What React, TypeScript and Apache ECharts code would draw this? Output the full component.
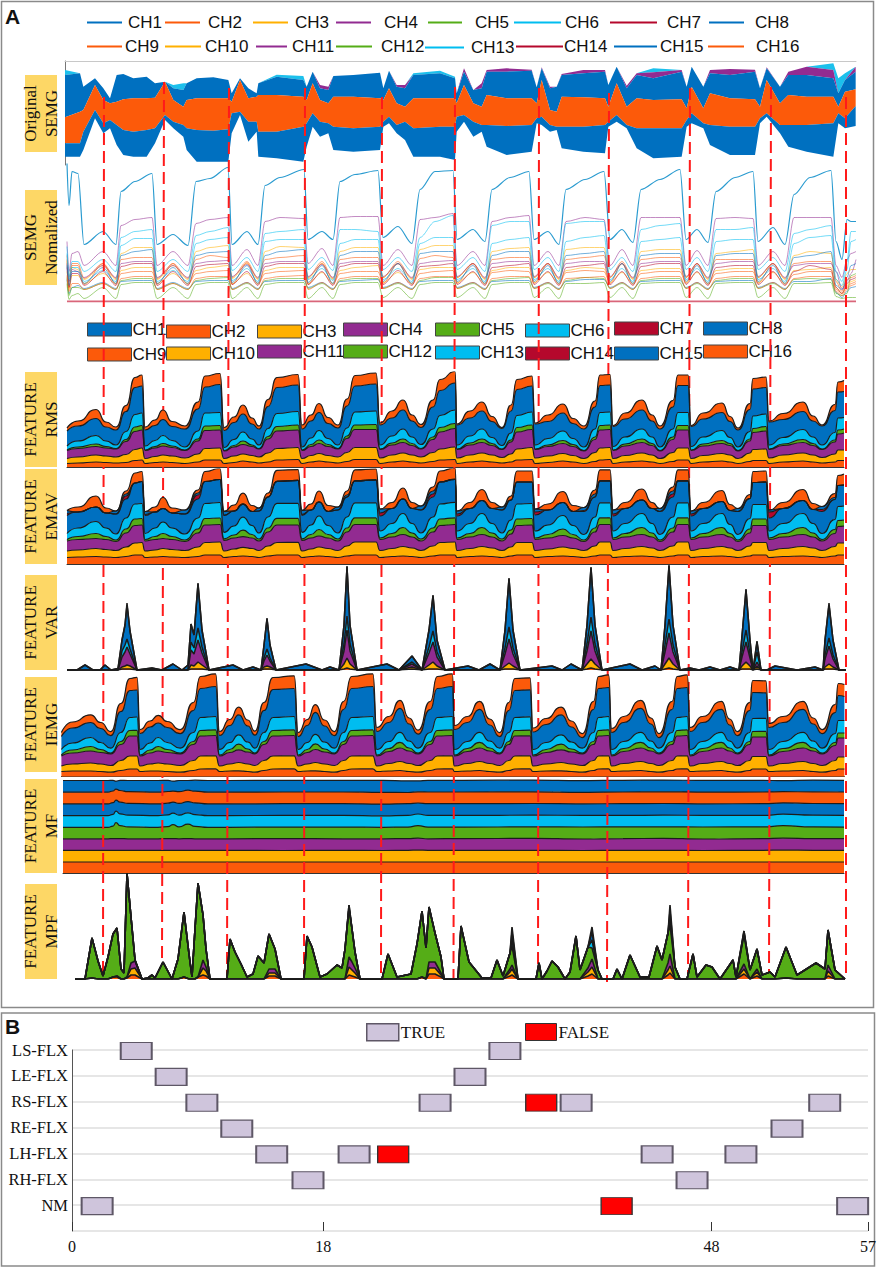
import React, { useEffect, useRef } from 'react';
import * as echarts from 'echarts';

const COLORS: Record<string, string> = {
  CH1: '#0070c0', CH2: '#fc5a0a', CH3: '#ffb000', CH4: '#922b91', CH5: '#55ad17', CH6: '#00bdf0', CH7: '#b5082c', CH8: '#0070c0',
  CH9: '#fc5a0a', CH10: '#ffb000', CH11: '#922b91', CH12: '#55ad17', CH13: '#00bdf0', CH14: '#b5082c', CH15: '#0070c0', CH16: '#fc5a0a',
};
const channels = ['CH1', 'CH2', 'CH3', 'CH4', 'CH5', 'CH6', 'CH7', 'CH8', 'CH9', 'CH10', 'CH11', 'CH12', 'CH13', 'CH14', 'CH15', 'CH16'];

// legend placement
const lineLegendX = [87, 165, 253, 336, 428, 514, 610, 709, 87, 165, 256, 336, 425, 516, 614, 708];
const lineLegendW = [35, 35, 35, 35, 34, 47, 47, 35, 35, 36, 31, 36, 39, 47, 43, 36];
const lineLegendTextX = [128, 208, 295, 384, 475, 565, 667, 755, 125, 205, 292, 381, 471, 564, 660, 756];
const lineLegendY = [23, 23, 23, 23, 23, 23, 23, 23, 47, 47, 47, 47, 48, 47, 47, 47];
const areaLegendX = [87, 166, 257, 343, 435, 525, 614, 703, 87, 166, 257, 343, 435, 525, 614, 703];
const areaLegendY = [330, 332, 332, 330, 330, 331, 329, 329, 355, 354, 352, 352, 353, 354, 354, 352];

const panelLabels = [
  { text: 'Original\nSEMG', top: 75, bottom: 152 },
  { text: 'SEMG\nNomalized', top: 190, bottom: 285 },
  { text: 'FEATURE\nRMS', top: 372, bottom: 467 },
  { text: 'FEATURE\nEMAV', top: 469, bottom: 564 },
  { text: 'FEATURE\nVAR', top: 575, bottom: 670 },
  { text: 'FEATURE\nIEMG', top: 677, bottom: 772 },
  { text: 'FEATURE\nMF', top: 779, bottom: 873 },
  { text: 'FEATURE\nMPF', top: 884, bottom: 979 },
];

// red boundaries between movements
const cutTopX = [104, 164, 229, 305, 382, 455, 539, 609, 690, 771, 846];
const cutBottomX = [103, 162, 227, 304, 381, 453.5, 538, 607, 688, 769, 846];
const cutTopY = [97, 82, 88, 88, 97, 87, 88, 93, 88, 87, 97];
const cutBottomY = [979, 963, 979, 979, 978, 979, 979, 982, 978, 978, 978];

// Original SEMG envelope, levels in the 3x crop, larger is lower on the page
const semgT = [195, 240, 250, 285, 310, 330, 350, 370, 400, 440, 465, 495, 520, 550, 560, 590, 640, 685, 695, 720, 745, 770, 775, 830, 910, 920, 938, 960, 985, 1000, 1060, 1140, 1150, 1167, 1190, 1215, 1240, 1320, 1365, 1370, 1392, 1420, 1445, 1460, 1520, 1595, 1610, 1625, 1650, 1670, 1685, 1750, 1815, 1825, 1850, 1880, 1910, 1960, 2045, 2060, 2075, 2110, 2130, 2190, 2265, 2280, 2300, 2340, 2365, 2420, 2500, 2515, 2535, 2567];
const semgBlueTop = [225, 220, 260, 235, 265, 295, 225, 222, 235, 230, 250, 245, 265, 270, 250, 235, 232, 240, 280, 235, 265, 280, 250, 230, 240, 260, 215, 265, 270, 228, 225, 218, 265, 212, 260, 265, 225, 220, 235, 280, 215, 270, 265, 215, 215, 212, 262, 205, 265, 260, 225, 220, 215, 255, 200, 265, 225, 235, 215, 260, 200, 260, 220, 225, 215, 265, 205, 260, 225, 225, 235, 280, 240, 215];
const semgOrangeTop = [352, 335, 330, 255, 300, 310, 305, 298, 295, 295, 293, 245, 300, 320, 300, 295, 295, 295, 305, 240, 295, 290, 285, 285, 290, 300, 250, 300, 310, 290, 290, 295, 300, 265, 310, 320, 295, 295, 295, 310, 255, 310, 320, 285, 295, 295, 310, 240, 330, 335, 290, 292, 295, 320, 250, 320, 295, 300, 298, 325, 260, 325, 280, 295, 298, 320, 240, 310, 285, 290, 290, 320, 275, 268];
const semgOrangeBottom = [430, 430, 395, 330, 370, 360, 375, 390, 395, 390, 385, 345, 365, 375, 385, 390, 392, 388, 340, 335, 365, 365, 395, 395, 380, 370, 340, 365, 370, 380, 385, 380, 365, 350, 375, 365, 385, 380, 380, 350, 345, 365, 375, 375, 378, 375, 355, 350, 375, 380, 380, 380, 375, 365, 345, 375, 385, 385, 385, 360, 340, 370, 375, 380, 380, 355, 340, 375, 375, 375, 370, 340, 355, 318];
const semgBlueBottom = [470, 470, 450, 355, 400, 385, 435, 465, 470, 470, 430, 360, 385, 410, 450, 485, 485, 485, 400, 345, 425, 395, 470, 475, 485, 440, 380, 410, 400, 450, 455, 450, 380, 370, 400, 420, 470, 470, 480, 395, 365, 410, 395, 440, 465, 455, 370, 375, 395, 390, 445, 455, 460, 380, 365, 385, 445, 475, 470, 380, 370, 385, 435, 465, 465, 370, 350, 400, 440, 455, 470, 370, 385, 378];
const semgPurpleExtra: Record<number, number> = { 960: 10, 985: 10, 1215: 10, 1190: 5, 1392: 10, 1445: 15, 1460: 5, 1520: 10, 1595: 3, 1625: 3, 1650: 5, 1685: 3, 1750: 10, 1815: 5, 1880: 8, 1910: 5, 1960: 18, 2045: 5, 2130: 10, 2190: 18, 2265: 6, 2300: 3, 2365: 10, 2420: 25, 2500: 25, 2567: 15 };
const semgCyanExtra: Record<number, number> = { 195: 15, 520: 10, 550: 20, 830: 6, 910: 12, 1240: 5, 1320: 8, 1365: 5, 1960: 12, 2500: 20, 2515: 45, 2535: 20 };

// Normalized SEMG
const normT = [1, 3, 6, 12, 18, 37, 50, 55, 69, 86, 91, 107, 122, 130, 144, 162, 166, 181, 192, 199, 214, 238, 242, 256, 267, 274, 289, 312, 317, 332, 346, 354, 369, 387, 391, 407, 419, 426, 444, 463, 468, 482, 493, 500, 519, 538, 544, 556, 567, 575, 594, 614, 620, 631, 642, 650, 669, 687, 692, 707, 719, 728, 744, 765, 770, 776, 781, 785, 790];
const normCh8 = [138, 96, 130, 128, 57, 70, 57, 110, 120, 128, 57, 67, 56, 120, 123, 134, 57, 70, 57, 116, 124, 132, 62, 70, 62, 120, 127, 131, 64, 75, 58, 112, 130, 131, 62, 72, 60, 112, 124, 130, 62, 70, 57, 112, 122, 130, 62, 72, 59, 112, 122, 132, 62, 72, 59, 110, 124, 130, 60, 74, 57, 107, 124, 131, 60, 42, 82, 80, 80];
const normCh4 = [60, 30, 48, 50, 36, 50, 36, 76, 82, 84, 36, 50, 36, 78, 82, 84, 36, 52, 36, 80, 84, 83, 38, 53, 36, 84, 85, 85, 36, 52, 36, 82, 84, 88, 36, 50, 36, 80, 84, 86, 36, 50, 36, 80, 84, 82, 36, 52, 36, 84, 84, 84, 36, 51, 36, 83, 84, 83, 36, 50, 36, 84, 84, 84, 36, 24, 42, 48, 50];
const normCh6 = [55, 25, 40, 40, 30, 42, 30, 64, 70, 72, 30, 42, 30, 66, 70, 74, 31, 44, 30, 68, 70, 72, 32, 44, 31, 72, 72, 70, 32, 44, 30, 64, 80, 86, 32, 44, 30, 76, 80, 80, 32, 44, 30, 78, 80, 80, 32, 44, 30, 72, 76, 78, 32, 44, 30, 72, 72, 74, 32, 44, 30, 68, 72, 76, 30, 20, 40, 70, 70];
const normCh13 = [48, 22, 34, 34, 20, 31, 20, 56, 63, 63, 20, 31, 20, 58, 62, 64, 21, 33, 20, 60, 62, 62, 22, 33, 21, 58, 62, 62, 22, 33, 20, 58, 64, 64, 22, 33, 20, 58, 62, 64, 22, 33, 20, 60, 64, 66, 22, 33, 20, 60, 62, 64, 22, 33, 20, 60, 62, 62, 22, 33, 20, 58, 64, 66, 22, 16, 32, 60, 62];
const normCh3 = [40, 20, 34, 32, 22, 36, 22, 48, 54, 54, 22, 36, 22, 50, 54, 56, 23, 38, 22, 50, 55, 54, 23, 38, 22, 50, 54, 54, 24, 38, 22, 52, 56, 56, 24, 38, 22, 50, 53, 54, 24, 38, 22, 52, 54, 54, 24, 38, 22, 50, 52, 52, 24, 38, 22, 48, 50, 52, 24, 38, 22, 46, 50, 48, 22, 14, 28, 32, 32];
const normCh15 = [36, 16, 30, 30, 18, 34, 18, 46, 50, 52, 18, 34, 18, 46, 49, 50, 19, 36, 18, 46, 50, 52, 19, 36, 18, 46, 50, 50, 20, 38, 18, 48, 50, 50, 20, 36, 18, 46, 50, 50, 20, 36, 18, 46, 48, 50, 20, 38, 18, 46, 48, 48, 20, 36, 18, 46, 48, 48, 20, 36, 18, 44, 46, 50, 16, 12, 24, 36, 38];
const normCh2 = [46, 24, 38, 38, 23, 38, 23, 42, 44, 44, 23, 38, 23, 42, 46, 44, 24, 40, 23, 42, 44, 46, 24, 40, 23, 42, 44, 44, 24, 40, 23, 43, 46, 44, 24, 38, 23, 42, 44, 44, 24, 38, 23, 42, 44, 46, 24, 40, 23, 42, 44, 44, 24, 38, 23, 42, 42, 42, 24, 38, 23, 38, 40, 40, 20, 10, 22, 24, 26];
const normCh11 = [38, 20, 32, 30, 24, 36, 24, 38, 40, 40, 24, 36, 24, 38, 40, 41, 25, 37, 24, 38, 40, 40, 25, 37, 24, 38, 40, 40, 25, 38, 24, 38, 40, 41, 25, 38, 24, 38, 40, 40, 25, 38, 24, 38, 40, 40, 25, 38, 24, 38, 40, 40, 25, 38, 24, 38, 40, 40, 25, 38, 24, 36, 38, 38, 30, 12, 20, 28, 42];
const normCh14 = [34, 14, 28, 28, 16, 30, 16, 35, 38, 38, 16, 30, 16, 35, 37, 38, 17, 30, 16, 35, 38, 38, 17, 30, 16, 35, 38, 38, 17, 31, 16, 35, 36, 38, 17, 30, 16, 34, 36, 38, 17, 30, 16, 34, 36, 38, 17, 30, 16, 35, 38, 38, 17, 30, 16, 34, 36, 36, 17, 30, 16, 30, 36, 32, 14, 8, 18, 22, 24];
const normCh10 = [30, 12, 26, 26, 18, 28, 18, 31, 34, 34, 18, 28, 18, 31, 34, 36, 18, 28, 18, 31, 34, 34, 18, 29, 18, 31, 34, 36, 19, 29, 18, 32, 34, 34, 19, 29, 18, 31, 34, 34, 19, 29, 18, 31, 34, 33, 19, 29, 18, 31, 33, 33, 19, 29, 18, 31, 33, 33, 19, 29, 18, 31, 32, 34, 14, 8, 16, 20, 22];
const normCh9 = [42, 14, 36, 36, 17, 38, 17, 28, 30, 30, 17, 38, 17, 28, 30, 31, 17, 39, 17, 28, 30, 31, 17, 38, 17, 28, 30, 30, 18, 38, 17, 28, 30, 31, 18, 38, 17, 29, 31, 30, 18, 38, 17, 29, 31, 30, 18, 38, 17, 28, 30, 30, 18, 38, 17, 28, 30, 30, 18, 38, 17, 27, 30, 30, 12, 8, 14, 18, 20];
const normCh16 = [26, 10, 18, 18, 12, 18, 12, 23, 25, 25, 12, 18, 12, 23, 25, 25, 12, 19, 12, 23, 25, 26, 12, 19, 12, 23, 25, 25, 13, 19, 12, 23, 25, 25, 13, 19, 12, 23, 25, 25, 13, 19, 12, 23, 24, 25, 13, 19, 12, 23, 25, 25, 13, 19, 12, 23, 25, 25, 13, 19, 12, 23, 25, 25, 10, 6, 12, 16, 18];
const normCh1 = [22, 8, 14, 16, 13, 19, 13, 20, 21, 21, 13, 19, 13, 20, 21, 21, 13, 19, 13, 20, 21, 21, 14, 19, 13, 20, 21, 22, 14, 19, 13, 20, 21, 21, 14, 19, 13, 20, 21, 21, 14, 19, 13, 20, 22, 22, 14, 19, 13, 20, 21, 21, 14, 19, 13, 20, 21, 21, 14, 19, 13, 20, 20, 23, 9, 4, 10, 14, 15];
const normCh5 = [24, 6, 14, 14, 12, 18, 12, 21, 23, 23, 12, 18, 12, 21, 23, 24, 12, 18, 12, 21, 23, 23, 13, 18, 12, 21, 23, 23, 13, 18, 12, 21, 24, 24, 13, 18, 12, 21, 23, 24, 13, 18, 12, 21, 24, 23, 13, 18, 12, 21, 23, 23, 13, 18, 12, 21, 23, 23, 13, 18, 12, 22, 23, 22, 8, 6, 8, 26, 28];
const normCh12 = [18, 2, 6, 8, 3, 14, 3, 17, 19, 19, 3, 14, 3, 17, 19, 19, 3, 14, 3, 17, 19, 19, 3, 14, 3, 17, 19, 19, 4, 14, 3, 17, 19, 19, 4, 14, 3, 17, 19, 19, 4, 14, 3, 18, 18, 19, 4, 14, 3, 18, 19, 19, 4, 14, 3, 18, 19, 19, 4, 14, 3, 18, 18, 19, 5, 3, 4, 4, 4];

// Stacked feature panels share one time base, eight points per movement
const featureT = [0, 11, 29, 39, 49, 59, 68, 75, 78, 88, 96, 105, 118, 131, 138, 153, 157, 167, 176, 185, 192, 201, 210, 231, 235, 244, 252, 261, 271, 280, 288, 309, 313, 325, 336, 345, 354, 366, 373, 388, 390, 403, 415, 425, 435, 444, 450, 465, 468, 481, 496, 506, 517, 528, 533, 543, 546, 558, 575, 585, 593, 606, 611, 621, 624, 636, 655, 663, 671, 683, 686, 699, 702, 716, 736, 746, 755, 768, 771, 777];

const rmsCh9 = [3.5, 4, 5, 4.5, 4, 4.5, 6.5, 7, 3.5, 4.5, 5, 4.5, 3.5, 5, 7, 7, 3.5, 4.5, 6, 5, 4, 5, 7, 7.5, 3.5, 5, 6, 5, 4, 5.5, 7.5, 7.5, 3.5, 5, 6, 5, 4, 5.5, 7, 7.5, 3.5, 5, 6, 5, 4, 5, 7, 7.5, 3.5, 4.5, 6, 5, 3.5, 5.5, 7, 7.5, 3.5, 5, 6, 5, 3.5, 5.5, 7, 7, 3.5, 5, 6, 5, 3.5, 5.5, 6.5, 6.5, 3.5, 5, 6, 5, 4, 5, 6.5, 6.5];
const rmsCh10 = [5, 6, 7, 6.5, 6, 8, 11, 12, 5, 6, 7, 6.5, 5.5, 8, 11.5, 12, 5, 6.5, 7, 6.5, 6, 9, 11.5, 12, 5, 6.5, 7.5, 6.5, 6, 9, 12, 12, 5.5, 7, 8, 7, 6, 9, 11, 12.5, 5.5, 7, 8, 7, 5.5, 8, 11, 12, 5.5, 6.5, 7.5, 6.5, 5, 9, 12, 12, 5, 6.5, 8, 7, 5, 9, 12, 12, 5, 6.5, 7.5, 7, 5, 8.5, 11, 11.5, 5.5, 7, 8, 7, 5.5, 8, 10.5, 10.5];
const rmsCh11 = [8, 8.5, 8.5, 8, 8, 13, 18, 18, 8, 8.5, 9, 8.5, 7.5, 13, 18, 18, 7.5, 9, 9.5, 9, 8, 14, 17.5, 17.5, 8, 9, 10, 9, 8, 14, 18, 18, 8.5, 10, 10.5, 9.5, 8, 13, 17, 18.5, 8.5, 10, 10.5, 9.5, 8, 12, 17, 18, 8.5, 9.5, 10, 9, 7.5, 13, 18, 18, 8, 9.5, 10.5, 9.5, 7.5, 13, 18, 18, 8, 9.5, 10, 9.5, 7.5, 12, 17, 18, 8.5, 9.5, 10.5, 9.5, 8, 12, 16, 17];
const rmsCh12 = [0.5, 1.5, 2.5, 1.5, 0.5, 2, 4.5, 4.5, 0.5, 1.5, 2.5, 1.5, 0.5, 2, 4.5, 4.5, 0.5, 1.5, 3.5, 1.5, 0.5, 2.5, 4.5, 5, 0.5, 2, 3.5, 2, 0.5, 2.5, 4.5, 5, 0.5, 2, 3.5, 2, 0.5, 2.5, 4.5, 5, 0.5, 2, 3.5, 2, 0.5, 2, 4.5, 4.5, 0.5, 1.5, 3, 2, 0.5, 2.5, 4.5, 4.5, 0.5, 2, 3.5, 2, 0.5, 2.5, 4.5, 4.5, 0.5, 2, 3, 2, 0.5, 2, 4, 4.5, 0.5, 1.5, 3, 2, 0.5, 2, 4, 4];
const rmsCh13 = [4, 6, 8.5, 5.5, 3.5, 8, 12.5, 12.5, 4, 6, 8, 5.5, 3, 8, 13, 13, 3, 6, 9, 6, 3.5, 8, 13, 13.5, 3, 6.5, 9.5, 6, 3.5, 8, 13, 13.5, 4, 7, 10, 6.5, 4, 8, 12, 13.5, 4, 7, 10, 6, 3.5, 7, 12, 13, 4, 6.5, 9.5, 6, 3.5, 8, 13, 13, 3.5, 7, 10, 6.5, 3.5, 8, 13, 13, 3.5, 7, 10, 6, 3.5, 7.5, 12.5, 12.5, 4, 6.5, 10, 6.5, 4, 7.5, 12, 11.5];
const rmsCh15 = [15, 15, 17, 14, 15, 20, 27, 27, 16, 15, 16, 14, 18, 22, 26, 28, 17, 17, 18, 15, 16, 22, 26, 26.5, 18, 17, 18, 15, 17, 22, 26, 27, 20, 18, 19, 16, 17, 22, 25, 27, 20, 18, 18, 16, 17, 22, 26, 26, 21, 17, 18, 15, 18, 22, 27, 27, 20, 18, 19, 16, 18, 22, 27, 27, 20, 18, 18, 16, 17, 22, 27, 26.5, 23, 18, 18, 16, 19, 22, 26, 26];
const rmsCh16 = [3, 5, 9, 5, 3, 6, 10, 11, 3, 5.5, 9.5, 5, 3, 7, 11, 11, 3, 5.5, 9, 6, 3, 7, 10, 10.5, 4, 6, 9, 6, 3, 7, 10.5, 11, 2, 7, 10, 6, 3, 7, 11, 11.5, 1, 7, 9, 5, 1, 6, 10, 10, 1, 6.5, 9, 5, 3, 6, 10.5, 10.5, 1, 6, 10, 6, 3, 6.5, 10.5, 10.5, 1, 6, 9.5, 5, 2, 6, 10.5, 10.5, 1, 6, 9.5, 5, 1, 6, 10, 11];

const emavCh9 = [6.5, 7, 7.5, 7, 6.5, 7.5, 9, 9, 6.5, 7, 7.5, 7, 6.5, 7.5, 9, 9, 6.5, 7.5, 8, 7.5, 6.5, 8, 9, 9, 6.5, 7.5, 8, 7.5, 6.5, 8, 9, 9, 6.5, 7.5, 8, 7.5, 6.5, 8, 9, 9, 6.5, 7.5, 8, 7.5, 6.5, 8, 9, 9, 6.5, 7.5, 8, 7.5, 6.5, 8, 9, 9, 6.5, 7.5, 8, 7.5, 6.5, 8, 9, 9, 6.5, 7.5, 8, 7.5, 6.5, 8, 9, 9, 6.5, 7.5, 8, 7.5, 6.5, 8, 9, 9];
const emavCh10 = [6.5, 7, 8, 7.5, 7, 9.5, 12, 12.5, 6.5, 7, 8, 7.5, 7, 9.5, 12.5, 13, 6.5, 7.5, 8.7, 8, 7, 10, 12.5, 12.7, 6.5, 7.5, 9, 8, 7, 10, 13, 13, 7, 8, 9.5, 8.5, 7, 10, 12.5, 13, 7, 8, 9.5, 8.5, 7, 9, 12.5, 12.5, 7, 7.5, 9, 8, 7, 10, 13, 13, 7, 8, 9.5, 8.5, 7, 10, 13, 13, 7, 8, 9.5, 8.5, 7, 10, 12.5, 12.5, 7, 8, 9.5, 8.5, 7, 9.5, 12, 12];
const emavCh11 = [10, 10.5, 10, 10, 9, 14, 17.5, 17.5, 10, 10.5, 10, 10, 9, 14, 17.5, 17.5, 10.7, 11, 10.7, 10.5, 9.5, 14, 17.5, 17.3, 10.7, 11, 11, 10.5, 9.5, 14, 17.5, 17.5, 11, 11.5, 12, 11, 9.5, 14, 17, 17.5, 11, 11.5, 12, 11, 9.5, 13, 17, 17.5, 11, 11, 11.5, 10.5, 9, 14, 17.5, 17.5, 11, 11.5, 12, 11, 9, 14, 17.5, 17.5, 11, 11.5, 12, 11, 9, 13, 17, 17, 11, 11.5, 12, 11, 9.5, 13, 16.5, 17];
const emavCh12 = [1.5, 3, 5, 3, 1.5, 4, 6.5, 6.5, 1.5, 3, 5, 3, 1.5, 4, 6.5, 6.5, 1.5, 3, 6.5, 3.5, 2, 4, 6.7, 6.7, 1.5, 3.5, 6.5, 3.5, 2, 4, 6.7, 6.7, 1.5, 3.5, 7, 4, 2, 4, 6.5, 6.7, 1.5, 3.5, 7, 4, 2, 4, 6.5, 6.5, 1.5, 3.5, 6.5, 3.5, 1.5, 4, 6.7, 6.7, 1.5, 3.5, 7, 4, 1.5, 4, 6.7, 6.7, 1.5, 3.5, 7, 3.5, 1.5, 4, 6.5, 6.5, 1.5, 3.5, 7, 4, 1.5, 4, 6, 6];
const emavCh13 = [6, 8.5, 12, 8.5, 6, 11, 15, 15, 6, 8.5, 11.5, 8.5, 6, 11, 15, 15.5, 6.5, 9, 13, 9, 6, 11, 15, 15, 6.5, 9.5, 13.5, 9, 6, 11, 15, 15, 7, 10, 14, 9.5, 6, 11, 15, 15.5, 7, 10, 14, 9.5, 6, 10, 15, 15, 7, 9.5, 13.5, 9, 5.5, 11, 15, 15, 7, 10, 14, 9.5, 5.5, 11, 15, 15, 7, 10, 14, 9, 5.5, 10.5, 14.5, 14.5, 7, 10, 14, 9.5, 6, 10, 14, 14];
const emavCh8 = [18, 16, 14.5, 15, 20, 19, 21, 22, 18, 16, 13.5, 15, 20, 19, 22, 23, 17, 15, 13, 14, 22, 20, 22, 23, 17, 15, 14, 14, 23, 20, 22, 23, 15, 15, 14.5, 15, 23, 20, 22, 23, 15, 15, 13, 15, 23, 20, 22, 21.5, 16, 15, 13, 14, 23, 20, 22, 22, 15, 15, 13.5, 15, 23, 20, 22, 22, 15, 15, 12, 14, 23, 20, 22, 22.5, 13, 15, 13, 14, 22, 20, 21, 21];
const emavCh14: Record<number, number> = { 0: 2, 59: 3, 78: 1, 131: 4, 235: 1, 313: 3, 366: 3, 390: 2, 468: 3, 517: 1, 546: 2, 606: 3, 624: 2, 702: 6, 755: 2 };
const emavCh15: Record<number, number> = { 0: 3, 49: 3, 59: 2, 78: 3, 118: 4, 131: 2, 157: 4, 192: 3, 235: 4, 271: 3, 280: 2, 313: 4, 354: 4, 366: 3, 390: 3, 435: 3, 468: 3, 517: 3, 528: 3, 546: 4, 593: 3, 606: 3, 624: 3, 671: 3, 702: 2, 755: 3, 768: 2 };
const emavCh16 = [0, 5, 11, 5, 0, 3, 10, 10, 0, 5, 11, 5, 0, 3, 10, 11, 0, 6, 11, 6, 0, 4, 11, 10.7, 0, 6, 11, 6, 0, 4, 11, 11, 0, 6, 11, 6, 0, 4, 11, 11.5, 0, 6, 11, 6, 0, 4, 11, 11, 0, 6, 11, 6, 0, 4, 11, 11, 0, 6, 11, 6, 0, 4, 11, 11, 0, 6, 11, 6, 0, 4, 11, 11, 0, 6, 11, 6, 0, 4, 10, 11];

const iemgCh9 = [5, 5.5, 5.5, 5, 4.3, 6, 7.5, 7.5, 5, 5.5, 5.5, 5, 4.3, 6, 7.5, 7.7, 5, 5.5, 5.7, 5, 4.3, 6, 7.5, 7.7, 5, 5.5, 5.7, 5, 4.3, 6, 7.5, 7.7, 5, 5.5, 6, 5, 4.3, 6, 7.5, 7.7, 5, 5.5, 6, 5, 4.3, 6, 7.5, 7.7, 5, 5.5, 5.7, 5, 4.3, 6, 7.5, 7.7, 5, 5.5, 6, 5, 4.3, 6, 7.5, 7.7, 5, 5.5, 6, 5, 4.3, 6, 7.5, 7.5, 5, 5.5, 6, 5, 4.3, 6, 7.5, 7.5];
const iemgCh10 = [5.5, 7, 8, 7.5, 6.7, 10, 13, 13, 5.5, 7, 8, 7.5, 6.7, 10, 13, 13, 5.5, 7, 8.3, 7.5, 6.7, 10, 13, 13, 5.5, 7, 8.3, 7.5, 6.7, 10, 13, 13, 5.5, 7.5, 9, 8, 6.7, 10, 13, 13, 5.5, 7.5, 9, 8, 6.7, 10, 13, 13, 5.5, 7, 8.3, 7.5, 6.7, 10, 13, 13, 5.5, 7.5, 9, 8, 6.7, 10, 13, 13, 5.5, 7.5, 9, 8, 6.7, 10, 12.5, 12.5, 5.5, 7.5, 9, 8, 6.7, 10, 12, 12];
const iemgCh11 = [10, 11, 12, 11.5, 11.7, 16, 20, 20, 10, 11, 12, 11.5, 11.7, 16, 20, 20.3, 10, 11.5, 12.7, 12, 11.7, 16, 20, 20.3, 10, 11.5, 13, 12, 11.7, 16, 20, 20.3, 10, 12, 13.5, 12.5, 11.7, 16, 20, 20.3, 10, 12, 13.5, 12.5, 11.7, 16, 20, 20, 10, 11.5, 12.7, 12, 11.7, 16, 20, 20.3, 10, 12, 13.5, 12.5, 11.7, 16, 20, 20.3, 10, 12, 13.5, 12.5, 11.7, 16, 19.5, 19.5, 10, 12, 13.5, 12.5, 11.7, 15, 19, 19];
const iemgCh12 = [1, 3, 4.5, 3, 0.7, 3, 5.5, 5.7, 1, 3, 4.5, 3, 0.7, 3, 5.5, 5.7, 1, 3, 5.7, 3, 0.7, 3, 5.5, 5.7, 1, 3, 5.7, 3, 0.7, 3, 5.5, 5.7, 1, 3, 5.7, 3, 0.7, 3, 5.5, 5.7, 1, 3, 5.7, 3, 0.7, 3, 5.5, 5.7, 1, 3, 5.7, 3, 0.7, 3, 5.5, 5.7, 1, 3, 5.7, 3, 0.7, 3, 5.5, 5.7, 1, 3, 5.7, 3, 0.7, 3, 5.5, 5.7, 1, 3, 5.7, 3, 0.7, 3, 5, 5];
const iemgCh13 = [5.5, 7, 9, 7, 5, 9, 13, 13.3, 5.5, 7, 9, 7, 5, 9, 13, 13.3, 5.5, 7, 9.3, 7, 5, 9, 13, 13.3, 5.5, 7, 9.5, 7, 5, 9, 13, 13.3, 5.5, 7, 10, 7, 5, 9, 13, 13.3, 5.5, 7, 10, 7, 5, 9, 13, 13.3, 5.5, 7, 9.3, 7, 5, 9, 13, 13.3, 5.5, 7, 10, 7, 5, 9, 13, 13.3, 5.5, 7, 10, 7, 5, 9, 13, 13, 5.5, 7, 10, 7, 5, 9, 12.5, 12.5];
const iemgCh15 = [13, 15, 15, 14, 12.5, 21, 27, 27, 16, 16, 14.5, 15, 14.5, 22, 29, 30, 14, 17, 20, 16, 13, 22, 28, 28, 13, 17, 22, 16, 12.5, 23, 29, 30, 18, 19, 24, 17, 14, 23, 29, 30, 20, 19, 23, 16, 11.5, 22, 27, 27, 17.5, 18, 20, 15, 10.5, 23, 29, 29, 17, 19, 24, 17, 10.5, 23, 29, 29, 18, 19, 23, 16, 12.5, 22, 26, 25.5, 22, 19, 23, 17, 14.5, 21, 25, 24];
const iemgCh16 = [4, 6, 7.7, 6, 4, 8, 12, 12.7, 4, 6, 7.7, 6, 4, 8, 12, 12.7, 4, 6, 7.7, 6, 4, 8, 12, 12.7, 4, 6, 7.7, 6, 4, 8, 12, 12.7, 4, 6, 8, 6, 4, 8, 12, 12.7, 4, 6, 8, 6, 4, 8, 12, 12, 4, 6, 7.7, 6, 4, 8, 12, 12.7, 4, 6, 8, 6, 4, 8, 12, 12.7, 4, 6, 8, 6, 4, 8, 12, 12, 4, 6, 8, 6, 4, 8, 12, 12];

const mfT = [0, 45, 50, 53, 57, 65, 95, 105, 110, 116, 125, 132, 145, 165, 220, 280, 320, 345, 355, 365, 400, 470, 520, 560, 600, 640, 700, 720, 750, 781];
const mfCh9 = [11, 11, 11, 11, 11, 11, 11, 11, 11, 11, 11, 11, 11, 11, 11, 11, 11, 11, 11, 11, 11, 11, 11, 11, 11, 11, 11, 11, 11, 11];
const mfCh10 = [11.7, 11.7, 11.7, 11.7, 11.7, 11.7, 11.7, 11.7, 11.7, 11.7, 11.7, 11.7, 11.7, 11.7, 11.5, 11.7, 11.5, 11.7, 11.9, 11.7, 11.7, 11.7, 11.5, 11.7, 11.7, 11.5, 11.7, 11.9, 11.7, 11.7];
const mfCh11 = [11.5, 11.5, 11.7, 11.7, 11.7, 11.5, 11.5, 11.7, 11.7, 11.5, 11.7, 11.5, 11.5, 11.5, 11.9, 11.5, 11.7, 11.7, 11.9, 11.5, 11.7, 11.9, 11.5, 11.7, 11.9, 11.5, 11.7, 11.9, 11.7, 11.7];
const mfCh12 = [11.5, 11.5, 12.5, 16, 13, 12, 11.5, 12, 14, 12, 14.5, 12.5, 11.5, 11.5, 11.5, 11.7, 11.5, 11.5, 12.5, 11.7, 11.5, 11.5, 12, 11.7, 11.5, 12, 11.7, 12.5, 11.7, 11.5];
const mfCh13 = [11.7, 11.7, 11.7, 11.5, 11.7, 11.7, 11.7, 11.7, 11.5, 11.7, 11.3, 11.7, 11.7, 11.7, 11.7, 11.7, 11.5, 11.7, 11.7, 11.7, 11.7, 11.7, 11.7, 11.5, 11.7, 11.7, 11.5, 11.5, 11.7, 11.7];
const mfCh15 = [11.7, 11.7, 11.7, 11, 11.7, 11.7, 11.7, 11.7, 11, 11.7, 11.2, 11.7, 11.7, 11.7, 11.7, 11.7, 11.7, 11.7, 11, 11.7, 11.7, 11.7, 11.5, 11.7, 11.7, 11.5, 11.7, 11.3, 11.7, 11.7];
const mfCh16 = [11.7, 11.7, 11.7, 11, 11.7, 11.7, 11.7, 11.7, 11, 11.7, 11.4, 11.7, 11.7, 11.7, 11.7, 11.7, 11.7, 11.2, 11.2, 11.7, 11.7, 11.7, 11.5, 11.7, 11.7, 11.7, 11.7, 11.2, 11.7, 11.7];
const mfCh1 = [11.7, 11.7, 10.7, 8, 10.2, 11.2, 11.7, 11.2, 10, 11.2, 9.7, 11, 11.7, 11.7, 11.7, 11.7, 12, 11.7, 11, 11.7, 11.7, 11.7, 11.7, 11.7, 11.7, 11.7, 11.7, 11, 11.7, 11.7];

const varT = [0, 10, 18, 26, 33, 38, 44, 51, 55, 58, 60, 63, 70, 85, 95, 106, 115, 121, 124, 127, 131, 135, 142, 166, 176, 186, 194, 197, 200, 203, 209, 239, 255, 263, 272, 277, 280, 283, 290, 320, 332, 345, 355, 362, 366, 370, 378, 401, 412, 423, 433, 438, 442, 446, 453, 485, 495, 504, 515, 520, 524, 528, 535, 563, 575, 588, 594, 598, 602, 606, 613, 623, 632, 643, 653, 663, 672, 675, 679, 683, 686, 690, 694, 700, 708, 730, 748, 756, 758, 762, 766, 772, 779];
const varCh9: Record<number, number> = { 55: 1, 58: 1, 60: 1, 63: 1, 124: 1, 127: 1, 131: 1, 135: 1, 197: 1, 200: 1, 203: 1, 277: 1, 280: 2, 283: 1, 345: 1, 362: 1, 366: 1, 370: 1, 438: 1, 442: 1, 446: 1, 520: 1, 524: 2, 528: 1, 598: 1, 602: 2, 606: 1, 675: 1, 679: 1, 683: 1, 690: 1, 758: 1, 762: 1, 766: 1 };
const varCh10: Record<number, number> = { 55: 2, 58: 3, 60: 4, 63: 3, 124: 4, 127: 3, 131: 7, 135: 4, 197: 2, 200: 3, 203: 2, 277: 5, 280: 10, 283: 5, 345: 2, 362: 4, 366: 7, 370: 3, 438: 3, 442: 6, 446: 3, 520: 5, 524: 9, 528: 5, 598: 5, 602: 10, 606: 5, 675: 3, 679: 7, 683: 3, 690: 3, 758: 2, 762: 5, 766: 2 };
const varCh11: Record<number, number> = { 55: 10, 58: 14, 60: 18, 63: 12, 124: 15, 127: 12, 131: 22, 135: 12, 197: 6, 200: 11, 203: 6, 277: 13, 280: 28, 283: 13, 345: 3, 362: 12, 366: 20, 370: 9, 438: 12, 442: 24, 446: 12, 520: 13, 524: 28, 528: 13, 598: 12, 602: 25, 606: 12, 675: 9, 679: 20, 683: 8, 690: 4, 758: 8, 762: 18, 766: 8 };
const varCh13: Record<number, number> = { 55: 6, 58: 7, 60: 8, 63: 5, 124: 8, 127: 6, 131: 12, 135: 6, 197: 3, 200: 6, 203: 3, 277: 7, 280: 14, 283: 7, 345: 2, 362: 6, 366: 11, 370: 5, 438: 6, 442: 12, 446: 6, 520: 7, 524: 14, 528: 7, 598: 7, 602: 14, 606: 7, 675: 5, 679: 12, 683: 4, 690: 10, 758: 4, 762: 8, 766: 4 };
const varCh15: Record<number, number> = { 18: 5, 38: 5, 51: 1.5, 55: 11, 58: 20, 60: 34, 63: 18, 85: 2, 106: 6, 121: 5, 124: 18, 127: 13, 131: 44, 135: 17, 166: 5, 186: 3, 197: 13, 200: 30, 203: 13, 239: 6, 263: 3, 277: 19, 280: 49, 283: 19, 320: 6, 345: 6, 362: 17, 366: 35, 370: 12, 401: 4, 423: 6, 438: 18, 442: 48, 446: 18, 485: 4, 504: 6, 520: 19, 524: 49, 528: 19, 563: 6, 588: 4, 598: 20, 602: 53, 606: 20, 623: 2, 643: 3, 663: 3, 675: 16, 679: 40, 683: 14, 690: 10, 708: 4, 748: 3, 758: 15, 762: 33, 766: 15 };
const varCh16: Record<number, number> = { 60: 2, 131: 1, 200: 1, 280: 1, 366: 1, 442: 1, 524: 1, 602: 1, 679: 1, 690: 1, 762: 2 };

const mpfT = [75, 85, 92, 98, 103, 108, 113, 117, 121, 124, 127, 131, 135, 142, 148, 152, 155, 163, 172, 178, 184, 189, 192, 195, 198, 203, 206, 210, 227, 230, 235, 241, 247, 253, 258, 264, 269, 275, 281, 304, 307, 312, 320, 327, 337, 342, 345, 349, 352, 355, 360, 382, 388, 397, 411, 417, 422, 426, 429, 435, 441, 444, 454, 458, 461, 469, 482, 491, 497, 503, 510, 512, 518, 536, 539, 542, 547, 552, 558, 565, 570, 576, 580, 588, 592, 598, 602, 613, 617, 622, 630, 640, 649, 657, 662, 668, 670, 675, 680, 687, 693, 697, 706, 712, 720, 733, 736, 744, 750, 757, 762, 770, 775, 786, 797, 816, 825, 828, 835, 845];
const mpfCh12 = [0, 0, 40, 18, 3, 22, 43, 48, 10, 6, 104, 46, 1, 0, 1, 4, 1, 17, 0, 20, 65, 25, 2, 50, 94, 45, 18, 0, 0, 40, 27, 15, 2, 5, 23, 16, 35, 20, 0, 0, 43, 32, 2, 5, 14, 11, 30, 49, 33, 16, 0, 0, 25, 2, 5, 35, 66, 31, 55, 29, 16, 0, 0, 0, 53, 17, 1, 1, 19, 3, 16, 19, 0, 0, 16, 0, 8, 18, 12, 0, 7, 43, 9, 21, 11, 9, 0, 0, 10, 0, 24, 2, 2, 33, 19, 30, 29, 12, 0, 0, 25, 2, 14, 12, 0, 19, 2, 29, 9, 20, 4, 7, 2, 31, 4, 16, 10, 35, 9, 0];
const mpfCh9: Record<number, number> = { 92: 1, 113: 2, 117: 2, 127: 1, 131: 4, 135: 4, 184: 2, 198: 2, 203: 4, 206: 3, 269: 3, 275: 3, 349: 4, 352: 3, 355: 2, 422: 2, 429: 5, 435: 5, 441: 2, 510: 3, 512: 4, 588: 3, 592: 5, 668: 4, 670: 6, 744: 5, 757: 3, 786: 1, 828: 3 };
const mpfCh10: Record<number, number> = { 117: 1, 127: 1, 131: 6, 135: 7, 203: 7, 206: 5, 269: 3, 275: 3, 349: 8, 352: 6, 355: 4, 429: 6, 435: 6, 441: 2, 510: 4, 512: 6, 588: 4, 592: 7, 668: 5, 670: 7, 744: 5, 757: 4, 828: 5 };
const mpfCh11: Record<number, number> = { 131: 6, 135: 7, 203: 8, 206: 4, 269: 4, 275: 4, 349: 10, 352: 8, 355: 5, 429: 6, 435: 6, 441: 2, 510: 3, 512: 4, 588: 4, 592: 8, 668: 7, 670: 12, 744: 5, 757: 3, 828: 6 };
const mpfCh13: Record<number, number> = { 512: 6, 592: 8, 670: 7, 744: 2 };
const mpfCh15: Record<number, number> = { 349: 3, 512: 8, 592: 8, 670: 7, 744: 2 };
const mpfCh16: Record<number, number> = { 512: 5, 592: 5, 670: 6 };

// Panel B, recognition results
const motions = ['', 'NM', 'RH-FLX', 'LH-FLX', 'RE-FLX', 'RS-FLX', 'LE-FLX', 'LS-FLX'];
const trueTime = [1.8, 4.6, 7.1, 9.3, 11.8, 14.3, 16.9, 20.2, 26, 28.5, 31, 36.1, 41.9, 44.4, 47.9, 51.2, 53.9, 55.9];
const trueMotion = ['NM', 'LS-FLX', 'LE-FLX', 'RS-FLX', 'RE-FLX', 'LH-FLX', 'RH-FLX', 'LH-FLX', 'RS-FLX', 'LE-FLX', 'LS-FLX', 'RS-FLX', 'LH-FLX', 'RH-FLX', 'LH-FLX', 'RE-FLX', 'RS-FLX', 'NM'];
const falseTime = [23, 33.6, 39];
const falseMotion = ['LH-FLX', 'RS-FLX', 'NM'];
const xTickValues = [0, 18, 45.8, 57];
const xTickLabels = ['0', '18', '48', '57'];

const sparse = (t: number[], values: Record<number, number>) => t.map((x) => values[x] ?? 0);
const zip = (t: number[], v: number[]) => t.map((x, i) => [x, v[i]]);
const minus = (a: number[], b: number[]) => a.map((x, i) => x - b[i]);

const axis = (gridIndex: number, min: number, max: number, lineColor?: string, extra: any = {}) => ({
  gridIndex,
  type: 'value',
  min,
  max,
  axisLabel: { show: false },
  axisTick: { show: false },
  splitLine: { show: false },
  axisLine: { show: !!lineColor, onZero: false, lineStyle: { color: lineColor, width: 1 } },
  ...extra,
});
// a value x axis would get its own dimension stacked, so stacked panels run on a time axis
const timeAxis = (gridIndex: number, min: number, max: number, lineColor?: string, extra: any = {}) =>
  axis(gridIndex, min, max, lineColor, { type: 'time', ...extra });

const stackPanel = (index: number, id: string, t: number[], layers: [string, number[]][], z: number, lineWidth = 1.2, smooth: number | boolean = 0.6) =>
  layers.map(([name, values]) => ({
    type: 'line',
    name,
    xAxisIndex: index,
    yAxisIndex: index,
    stack: id,
    z,
    smooth,
    smoothMonotone: 'x',
    showSymbol: false,
    silent: true,
    data: zip(t, values),
    lineStyle: { color: '#1c1c1c', width: lineWidth },
    areaStyle: { color: COLORS[name], opacity: 1 },
    itemStyle: { color: COLORS[name] },
  }));

const semgBand = (name: string, color: string, values: number[]) => ({
  type: 'line',
  name,
  xAxisIndex: 0,
  yAxisIndex: 0,
  stack: 'semg',
  z: 1,
  showSymbol: false,
  silent: true,
  data: zip(semgT, values),
  lineStyle: { width: 0 },
  areaStyle: { color, opacity: 1 },
  itemStyle: { color },
});

const App: React.FC = () => {
  const chartRef = useRef<HTMLDivElement>(null);

  useEffect(() => {
    if (!chartRef.current) return undefined;
    const chart = echarts.init(chartRef.current, undefined, { renderer: 'svg' });

    const semgPurpleTop = minus(semgBlueTop, sparse(semgT, semgPurpleExtra));
    const semgCyanTop = minus(semgPurpleTop, sparse(semgT, semgCyanExtra));

    const normLines: [string, number[]][] = [
      ['CH1', normCh1], ['CH2', normCh2], ['CH3', normCh3], ['CH4', normCh4], ['CH5', normCh5], ['CH6', normCh6],
      ['CH7', sparse(normT, {})], ['CH8', normCh8], ['CH9', normCh9], ['CH10', normCh10], ['CH11', normCh11], ['CH12', normCh12],
      ['CH13', normCh13], ['CH14', normCh14], ['CH15', normCh15], ['CH16', normCh16],
    ];

    const legends = [
      ...channels.map((name, i) => ({
        left: lineLegendX[i],
        top: lineLegendY[i] - 9,
        padding: 0,
        selectedMode: false,
        itemWidth: lineLegendW[i],
        itemHeight: 2,
        textStyle: {
          fontFamily: 'Liberation Sans',
          fontSize: 17,
          color: '#111',
          padding: [0, 0, 0, lineLegendTextX[i] - lineLegendX[i] - lineLegendW[i] - 5],
        },
        data: [{ name, icon: 'rect', itemStyle: { color: COLORS[name], borderWidth: 0 } }],
      })),
      ...channels.map((name, i) => ({
        left: areaLegendX[i],
        top: areaLegendY[i] - 9,
        padding: 0,
        selectedMode: false,
        itemWidth: 44,
        itemHeight: 13,
        textStyle: { fontFamily: 'Liberation Sans', fontSize: 17, color: '#111', padding: [0, 0, 0, -4] },
        data: [{ name, icon: 'rect', itemStyle: { color: COLORS[name], borderColor: '#444', borderWidth: 1 } }],
      })),
      {
        left: 366,
        top: 1023,
        padding: 0,
        selectedMode: false,
        itemWidth: 32,
        itemHeight: 17,
        textStyle: { fontFamily: 'Liberation Serif', fontSize: 17, color: '#111', padding: [0, 0, 0, -3] },
        data: [{ name: 'TRUE', icon: 'rect', itemStyle: { color: '#cfc5dc', borderColor: '#5e5766', borderWidth: 1.5 } }],
      },
      {
        left: 525,
        top: 1023,
        padding: 0,
        selectedMode: false,
        itemWidth: 31,
        itemHeight: 17,
        textStyle: { fontFamily: 'Liberation Serif', fontSize: 17, color: '#111', padding: [0, 0, 0, -3] },
        data: [{ name: 'FALSE', icon: 'rect', itemStyle: { color: '#ff0000', borderColor: '#333', borderWidth: 1 } }],
      },
    ];

    const graphicElements: any[] = [
      { type: 'rect', shape: { x: 1.5, y: 1.5, width: 872, height: 1006 }, style: { fill: 'none', stroke: '#8a8a8a', lineWidth: 1.5 } },
      { type: 'rect', shape: { x: 1.5, y: 1013, width: 873, height: 253 }, style: { fill: 'none', stroke: '#8a8a8a', lineWidth: 1.5 } },
      { type: 'text', x: 5, y: 6, style: { text: 'A', fontFamily: 'Liberation Sans', fontWeight: 'bold', fontSize: 21, fill: '#111' } },
      { type: 'text', x: 5, y: 1016, style: { text: 'B', fontFamily: 'Liberation Sans', fontWeight: 'bold', fontSize: 21, fill: '#111' } },
    ];
    panelLabels.forEach((label) => {
      graphicElements.push({
        type: 'rect',
        shape: { x: 25, y: label.top, width: 32, height: label.bottom - label.top },
        style: { fill: '#fdd766' },
      });
      graphicElements.push({
        type: 'text',
        x: 41,
        y: (label.top + label.bottom) / 2,
        rotation: Math.PI / 2,
        style: {
          text: label.text,
          fontFamily: 'Liberation Serif',
          fontSize: 17,
          lineHeight: 21,
          fill: '#111',
          align: 'center',
          verticalAlign: 'middle',
        },
      });
    });

    const options: any = {
      animation: false,
      legend: legends,
      graphic: { elements: graphicElements },
      grid: [
        { left: 65, top: 61, width: 791, height: 104 },
        { left: 66, top: 160.5, width: 790, height: 141 },
        { left: 67, top: 372, width: 777, height: 95 },
        { left: 67, top: 469, width: 777, height: 95 },
        { left: 67, top: 565, width: 779, height: 105 },
        { left: 61.4, top: 673, width: 783, height: 103.5 },
        { left: 63, top: 779, width: 781, height: 94 },
        { left: 75, top: 873, width: 770, height: 106 },
        { left: 72, top: 1050, width: 797, height: 181 },
        { left: 0, top: 0, width: 879, height: 1268 },
      ],
      xAxis: [
        timeAxis(0, 195, 2568, '#c8c8c8', { position: 'top' }),
        axis(1, 0, 790),
        timeAxis(2, 0, 777, '#333'),
        timeAxis(3, 0, 777, '#333'),
        timeAxis(4, 0, 779),
        timeAxis(5, 0, 777, '#333'),
        timeAxis(6, 0, 781, '#333'),
        timeAxis(7, 75, 845),
        {
          gridIndex: 8,
          type: 'value',
          min: 0,
          max: 57,
          splitLine: { show: false },
          axisLine: { onZero: false, lineStyle: { color: '#555' } },
          axisTick: { show: true, inside: true, length: 9, customValues: xTickValues, lineStyle: { color: '#333' } },
          axisLabel: {
            customValues: xTickValues,
            fontFamily: 'Liberation Serif',
            fontSize: 16,
            color: '#111',
            margin: 7,
            formatter: (v: number) => xTickLabels[xTickValues.indexOf(v)],
          },
        },
        axis(9, 0, 879),
      ],
      yAxis: [
        axis(0, 183, 495, '#777', { inverse: true }),
        axis(1, 0, 141),
        axis(2, 0, 95),
        axis(3, 0, 95),
        axis(4, 0, 105),
        axis(5, 0, 103.5),
        axis(6, 0, 94),
        axis(7, 0, 106),
        {
          gridIndex: 8,
          type: 'category',
          boundaryGap: false,
          data: motions,
          axisLine: { lineStyle: { color: '#555' } },
          axisTick: { show: false },
          axisLabel: { interval: 0, fontFamily: 'Liberation Serif', fontSize: 16.5, color: '#111', margin: 4 },
          splitLine: { show: true, interval: 0, lineStyle: { color: '#e6e6e6', width: 2 } },
        },
        axis(9, 0, 1268, undefined, { inverse: true }),
      ],
      series: [
        {
          type: 'line',
          name: 'semg-offset',
          xAxisIndex: 0,
          yAxisIndex: 0,
          stack: 'semg',
          z: 1,
          showSymbol: false,
          silent: true,
          data: zip(semgT, semgCyanTop),
          lineStyle: { width: 0 },
        },
        semgBand('CH6', '#1cc0ec', minus(semgPurpleTop, semgCyanTop)),
        semgBand('CH4', COLORS.CH4, minus(semgBlueTop, semgPurpleTop)),
        semgBand('CH8', COLORS.CH8, minus(semgOrangeTop, semgBlueTop)),
        semgBand('CH16', COLORS.CH16, minus(semgOrangeBottom, semgOrangeTop)),
        semgBand('CH15', COLORS.CH15, minus(semgBlueBottom, semgOrangeBottom)),

        ...normLines.map(([name, values]) => ({
          type: 'line',
          name,
          xAxisIndex: 1,
          yAxisIndex: 1,
          z: name === 'CH8' ? 2 : 1,
          smooth: 0.3,
          smoothMonotone: 'x',
          showSymbol: false,
          silent: true,
          data: zip(normT, values),
          lineStyle: {
            color: name === 'CH8' ? '#2a9bd0' : name === 'CH7' ? '#d9667a' : COLORS[name],
            width: name === 'CH8' ? 1.2 : name === 'CH7' ? 2 : 1,
            opacity: name === 'CH8' || name === 'CH7' ? 1 : 0.55,
          },
          itemStyle: { color: COLORS[name] },
        })),

        ...stackPanel(2, 'rms', featureT, [
          ['CH9', rmsCh9], ['CH10', rmsCh10], ['CH11', rmsCh11], ['CH12', rmsCh12], ['CH13', rmsCh13], ['CH15', rmsCh15], ['CH16', rmsCh16],
        ], 6),
        ...stackPanel(3, 'emav', featureT, [
          ['CH9', emavCh9], ['CH10', emavCh10], ['CH11', emavCh11], ['CH12', emavCh12], ['CH13', emavCh13], ['CH8', emavCh8],
          ['CH14', sparse(featureT, emavCh14)], ['CH15', sparse(featureT, emavCh15)], ['CH16', emavCh16],
        ], 6),
        ...stackPanel(4, 'var', varT, [
          ['CH9', sparse(varT, varCh9)], ['CH10', sparse(varT, varCh10)], ['CH11', sparse(varT, varCh11)],
          ['CH13', sparse(varT, varCh13)], ['CH15', sparse(varT, varCh15)], ['CH16', sparse(varT, varCh16)],
        ], 6, 1.5, false),
        ...stackPanel(5, 'iemg', featureT, [
          ['CH9', iemgCh9], ['CH10', iemgCh10], ['CH11', iemgCh11], ['CH12', iemgCh12], ['CH13', iemgCh13], ['CH15', iemgCh15], ['CH16', iemgCh16],
        ], 6),
        ...stackPanel(6, 'mf', mfT, [
          ['CH9', mfCh9], ['CH10', mfCh10], ['CH11', mfCh11], ['CH12', mfCh12], ['CH13', mfCh13], ['CH15', mfCh15], ['CH16', mfCh16], ['CH1', mfCh1],
        ], 3),
        ...stackPanel(7, 'mpf', mpfT, [
          ['CH9', sparse(mpfT, mpfCh9)], ['CH10', sparse(mpfT, mpfCh10)], ['CH11', sparse(mpfT, mpfCh11)], ['CH12', mpfCh12],
          ['CH13', sparse(mpfT, mpfCh13)], ['CH15', sparse(mpfT, mpfCh15)], ['CH16', sparse(mpfT, mpfCh16)],
        ], 6, 1.6, false),

        ...cutTopX.map((x, i) => ({
          type: 'line',
          name: `cut-${i}`,
          xAxisIndex: 9,
          yAxisIndex: 9,
          z: 5,
          showSymbol: false,
          silent: true,
          data: [[x, cutTopY[i]], [cutBottomX[i], cutBottomY[i]]],
          lineStyle: { color: '#ff1a1a', width: 2, type: [12, 6] },
        })),

        {
          type: 'scatter',
          name: 'TRUE',
          xAxisIndex: 8,
          yAxisIndex: 8,
          symbol: 'rect',
          symbolSize: [31, 17],
          symbolOffset: [0, 1],
          silent: true,
          data: trueTime.map((x, i) => [x, trueMotion[i]]),
          itemStyle: { color: '#cfc5dc', borderColor: '#5e5766', borderWidth: 1.5, opacity: 1 },
        },
        {
          type: 'scatter',
          name: 'FALSE',
          xAxisIndex: 8,
          yAxisIndex: 8,
          symbol: 'rect',
          symbolSize: [31, 17],
          symbolOffset: [0, 1],
          silent: true,
          data: falseTime.map((x, i) => [x, falseMotion[i]]),
          itemStyle: { color: '#ff0000', borderColor: '#333', borderWidth: 1, opacity: 1 },
        },
      ],
    };
    chart.setOption(options);

    return () => {
      chart.dispose();
    };
  }, []);

  return <div ref={chartRef} style={{ position: 'absolute', left: 0, top: 0, width: 879, height: 1268 }} />;
};

export default App;
